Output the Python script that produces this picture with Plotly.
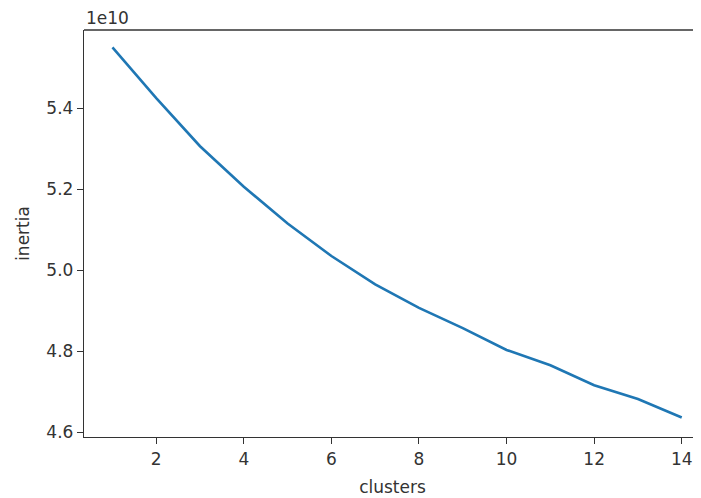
import plotly.graph_objects as go

clusters = list(range(1, 15))
inertia = [5.550e10, 5.425e10, 5.306e10, 5.206e10, 5.115e10, 5.035e10, 4.965e10,
           4.907e10, 4.857e10, 4.803e10, 4.765e10, 4.716e10, 4.682e10, 4.636e10]
x_ticks = [2, 4, 6, 8, 10, 12, 14]
y_ticks = [4.6e10, 4.8e10, 5.0e10, 5.2e10, 5.4e10]
y_tick_labels = ["4.6", "4.8", "5.0", "5.2", "5.4"]

font = dict(family="DejaVu Sans", size=17, color="#333333")
axcol = "#333333"

fig = go.Figure()
fig.add_trace(go.Scatter(x=clusters, y=inertia, mode="lines",
                         line=dict(color="#1f77b4", width=2.6)))

fig.update_layout(
    width=693, height=490,
    margin=dict(l=76, r=0, t=22, b=61),
    paper_bgcolor="white", plot_bgcolor="white",
    font=font, showlegend=False,
    xaxis=dict(range=[0.35, 14.44], tickvals=x_ticks, showgrid=False, zeroline=False,
               showline=True, linecolor=axcol, linewidth=1.4,
               ticks="outside", ticklen=6, tickwidth=1.4, tickcolor=axcol,
               title=dict(text="clusters", standoff=13, font=font)),
    yaxis=dict(range=[4.588e10, 5.593e10], tickvals=y_ticks, ticktext=y_tick_labels,
               showgrid=False, zeroline=False,
               showline=True, linecolor=axcol, linewidth=1.4,
               ticks="outside", ticklen=6, tickwidth=1.4, tickcolor=axcol,
               title=dict(text="inertia", standoff=12, font=font)),
    shapes=[dict(type="line", xref="paper", yref="paper", x0=0, x1=1, y0=1, y1=1,
                 line=dict(color=axcol, width=1.4))],
    annotations=[dict(text="1e10", xref="paper", yref="paper", x=0, y=1,
                      xanchor="left", yanchor="bottom", showarrow=False,
                      font=font, yshift=0)],
)

fig.write_html("out.html")
